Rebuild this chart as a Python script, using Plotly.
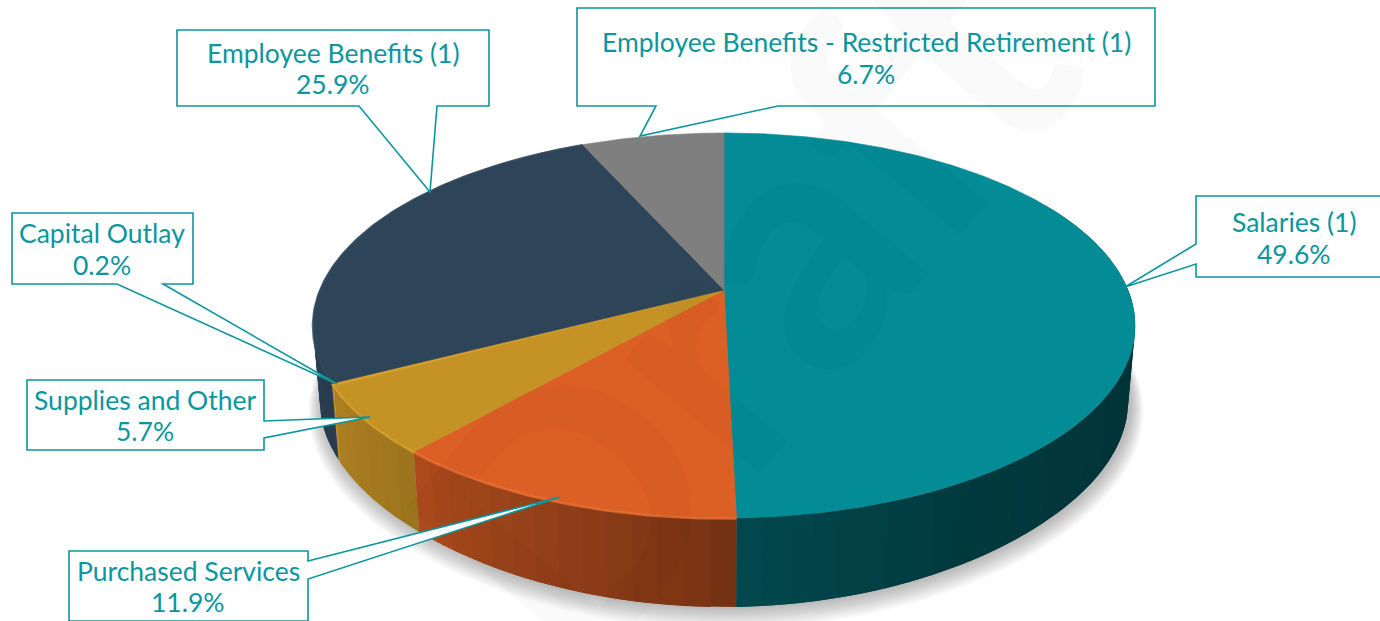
import numpy as np
import plotly.graph_objects as go

categories = ["Salaries (1)", "Purchased Services", "Supplies and Other", "Capital Outlay",
              "Employee Benefits (1)", "Employee Benefits - Restricted Retirement (1)"]
values = [49.6, 11.9, 5.7, 0.2, 25.9, 6.7]
top_colors = ["#038b96", "#dc5f25", "#c59226", "#d9a02a", "#2e4559", "#7f7f7f"]
rim_colors = ["#0a919c", "#ee7438", "#dba32f", "#dba32f", "#33495e", "#7f7f7f"]
TEAL = "#0b969e"

# perspective model of the tilted disc, in page pixels
CX, CY, RX, RY, K = 724.0, 290.0, 404.0, 186.0, 0.1844


def top_xy(theta):
    u, v = np.sin(theta), np.cos(theta)
    w = 1 + K * v
    return CX + RX * u / w, CY - RY * v / w


def bottom_xy(theta):
    x, y = top_xy(theta)
    v = np.cos(theta)
    return CX + (x - CX) * 0.983, y + 76 + 13 * v ** 4


def side_shade(theta):
    deg = np.degrees(theta)
    return np.interp(deg, [60, 120, 150, 178, 180, 221, 242, 270, 300],
                     [0.38, 0.38, 0.42, 0.52, 0.54, 0.79, 0.88, 0.93, 0.93])


def rgb(hexs):
    return [int(hexs[i:i + 2], 16) for i in (1, 3, 5)]


fig = go.Figure()
edges = np.radians(np.concatenate([[0], np.cumsum(values)]) * 3.6)

# soft ground shadow
full = np.linspace(0, 2 * np.pi, 241)
for i in range(12, 0, -1):
    bx, by = bottom_xy(full)
    sx = CX + (bx - CX) * (1 + i * 0.0028) + 2
    sy = CY + 85 + (by - CY - 85) * (1 + i * 0.0045) + i * 0.75
    fig.add_trace(go.Scatter(x=sx, y=sy, mode="lines", fill="toself", line=dict(width=0),
                             fillcolor="rgba(0,0,0,0.022)", hoverinfo="skip", showlegend=False))

# side wall, as overlapping thin strips shaded by direction
for k in range(len(values)):
    a, b = edges[k], edges[k + 1]
    if b < np.radians(60) or a > np.radians(300):
        continue
    a2, b2 = max(a, np.radians(60)), min(b, np.radians(300))
    n = max(1, int(np.degrees(b2 - a2) / 3))
    ts = np.linspace(a2, b2, n + 1)
    base = np.array(rgb(top_colors[k]))
    for j in range(n):
        t0, t1 = ts[j], ts[min(j + 2, n)]
        seg = np.linspace(t0, t1, 5)
        tx, ty = top_xy(seg)
        bx, by = bottom_xy(seg)
        c = base * side_shade((ts[j] + ts[j + 1]) / 2)
        col = "rgb(%d,%d,%d)" % tuple(c)
        fig.add_trace(go.Scatter(x=np.r_[tx, bx[::-1]], y=np.r_[ty, by[::-1]], mode="lines",
                                 fill="toself", fillcolor=col, line=dict(width=0),
                                 hoverinfo="skip", showlegend=False))

# top face
for k, (name, val) in enumerate(zip(categories, values)):
    t = np.linspace(edges[k], edges[k + 1], max(3, int(val * 5)))
    ax, ay = top_xy(t)
    fig.add_trace(go.Scatter(x=np.r_[CX, ax, CX], y=np.r_[CY, ay, CY], mode="lines", fill="toself",
                             fillcolor=top_colors[k], line=dict(color=top_colors[k], width=0.6),
                             name=name, text=f"{name}: {val}%", hoverinfo="text", showlegend=False))
    if edges[k] > np.radians(170) and edges[k] < np.radians(250):
        fig.add_trace(go.Scatter(x=ax, y=ay + 0.5, mode="lines", opacity=0.75,
                                 line=dict(color=rim_colors[k], width=2.5),
                                 hoverinfo="skip", showlegend=False))

# callouts: box outline with pointer wedge, and the two label lines
callouts = [
    (0, "M1196,196 L1381,196 L1381,277 L1196,277 L1196,264 L1125,287 L1196,244 Z", 1294, 222, 254),
    (1, "M69,551 L308,551 L308,561 L560,497 L308,579 L308,621 L69,621 Z", 188, 571, 602),
    (2, "M27,380 L264,380 L264,421 L370,417 L264,438 L264,450 L27,450 Z", 145, 400, 431),
    (3, "M12,213 L193,213 L193,284 L163,284 L337,384 L117,284 L12,284 Z", 102, 233, 265),
    (4, "M177,30 L489,30 L489,106 L437,106 L430,192 L359,106 L177,106 Z", 333, 53, 84),
    (5, "M577,8 L1155,8 L1155,106 L778,106 L640,136 L656,106 L577,106 Z", 866, 42, 74),
]
shapes, annotations = [], []
for k, path, lx, ly1, ly2 in callouts:
    shapes.append(dict(type="path", path=path, xref="x", yref="y", layer="above",
                       fillcolor="white", line=dict(color=TEAL, width=1.6)))
    for line_text, ly in ((categories[k], ly1), (f"{values[k]}%", ly2)):
        annotations.append(dict(x=lx, y=ly, xref="x", yref="y", showarrow=False, align="center",
                                text=line_text, font=dict(family="Lato", size=26.5, color=TEAL)))

# faint watermark
annotations.append(dict(x=735, y=295, xref="x", yref="y", showarrow=False, text="<b>Draft</b>",
                        textangle=-50, font=dict(family="Lato", size=345, color="rgba(0,0,0,0.02)")))

fig.update_layout(
    width=1380, height=621, margin=dict(l=0, r=0, t=0, b=0),
    paper_bgcolor="white", plot_bgcolor="white", showlegend=False,
    xaxis=dict(range=[0, 1380], visible=False, fixedrange=True),
    yaxis=dict(range=[621, 0], visible=False, fixedrange=True),
    shapes=shapes, annotations=annotations,
)
fig.write_html("out.html", config={"displayModeBar": False},
               post_script="document.body.style.margin='0';document.documentElement.style.overflow='hidden';")
